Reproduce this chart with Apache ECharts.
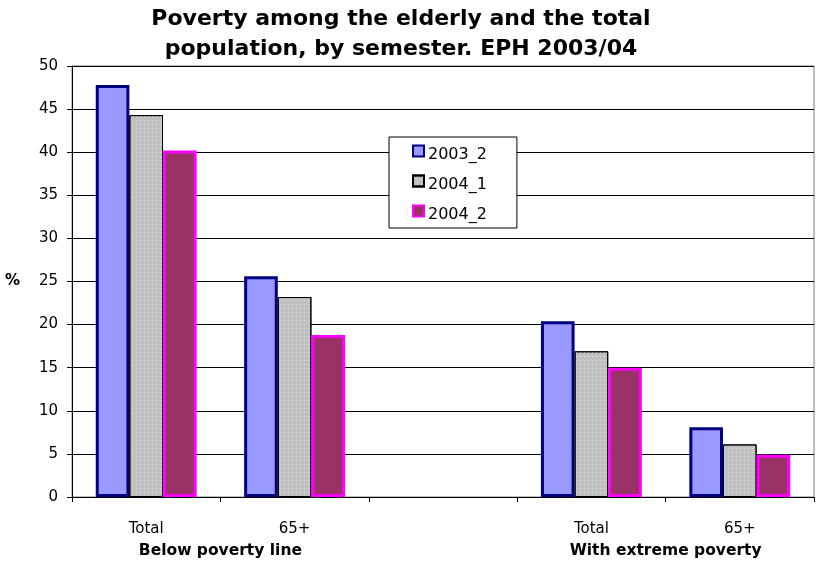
<!DOCTYPE html>
<html><head><meta charset="utf-8">
<script src="https://cdn.jsdelivr.net/npm/echarts@6/dist/echarts.min.js"></script>
<style>html,body{margin:0;padding:0;background:#fff}#c{width:817px;height:565px}</style>
</head><body><div id="c"></div>
<script>
const categories = ['Total', '65+', '', 'Total', '65+'];
const groupLabels = ['', 'Below poverty line', '', '', 'With extreme poverty', ''];
const seriesNames = ['2003_2', '2004_1', '2004_2'];
const s2003_2 = [47.8, 25.6, null, 20.4, 8.1];
const s2004_1 = [44.3, 23.2, null, 16.9, 6.1];
const s2004_2 = [40.2, 18.8, null, 15.0, 4.9];
const yTicks = {min: 0, max: 50, interval: 5};

const font = 'DejaVu Sans, sans-serif';
const chart = echarts.init(document.getElementById('c'), null, {renderer: 'canvas'});
chart.setOption({
  animation: false,
  backgroundColor: '#fff',
  title: {
    text: 'Poverty among the elderly and the total\npopulation, by semester. EPH 2003/04',
    left: 396, top: -1, textAlign: 'center',
    textStyle: {fontFamily: font, fontSize: 22, fontWeight: 'bold', color: '#000', lineHeight: 30}
  },
  grid: {left: 72, right: 2, top: 66, bottom: 68, show: true, borderColor: '#808080', borderWidth: 1},
  legend: {
    orient: 'vertical', left: 389, top: 137,
    backgroundColor: '#fff', borderColor: '#000', borderWidth: 1,
    padding: [2, 30, 5, 23], itemGap: 6, itemWidth: 11, itemHeight: 11, icon: 'rect',
    formatter: '{t|{name}}',
    textStyle: {fontFamily: font, fontSize: 16, color: '#000',
      rich: {t: {fontFamily: font, fontSize: 16, color: '#000', lineHeight: 19, padding: [8, 0, 0, -1]}}},
    data: seriesNames
  },
  xAxis: [
    {
      type: 'category', data: categories, position: 'bottom',
      axisLine: {lineStyle: {color: '#000'}},
      axisTick: {show: true, interval: 0, length: 5, lineStyle: {color: '#000'}},
      axisLabel: {interval: 0, fontFamily: font, fontSize: 15, color: '#000', margin: 25}
    },
    {
      type: 'category', data: groupLabels, position: 'bottom', boundaryGap: false,
      axisLine: {show: false}, axisTick: {show: false},
      axisLabel: {interval: 0, fontFamily: font, fontSize: 15.5, fontWeight: 'bold', color: '#000', margin: 46}
    }
  ],
  yAxis: {
    type: 'value', min: yTicks.min, max: yTicks.max, interval: yTicks.interval,
    name: '%', nameLocation: 'middle', nameRotate: 0, nameGap: 52,
    nameTextStyle: {fontFamily: font, fontSize: 15, fontWeight: 'bold', color: '#000', padding: [0, 0, 17, 0]},
    axisLine: {show: true, lineStyle: {color: '#000'}},
    axisTick: {show: true, length: 5, lineStyle: {color: '#000'}},
    axisLabel: {fontFamily: font, fontSize: 15, color: '#000', margin: 14},
    splitLine: {lineStyle: {color: '#000', width: 1}}
  },
  series: [
    {name: seriesNames[0], type: 'bar', data: s2003_2, barGap: '0%', barCategoryGap: '32%',
     itemStyle: {color: '#9999FF', borderColor: '#000080', borderWidth: 3}},
    {name: seriesNames[1], type: 'bar', data: s2004_1,
     itemStyle: {color: '#C0C0C0', borderColor: '#000', borderWidth: 1,
       decal: {symbol: 'rect', symbolSize: 1, dashArrayX: [1, 3], dashArrayY: [1, 3], color: 'rgba(235,235,235,0.9)', rotation: 0}}},
    {name: seriesNames[2], type: 'bar', data: s2004_2,
     itemStyle: {color: '#993366', borderColor: '#FF00FF', borderWidth: 3}}
  ]
});
</script></body></html>
